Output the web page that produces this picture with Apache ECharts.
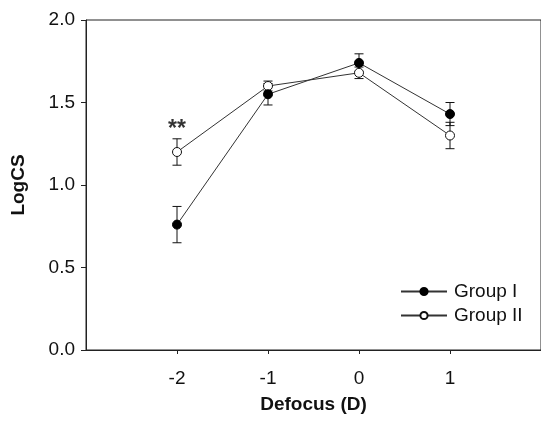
<!DOCTYPE html>
<html style="height: 100%">
    <head>
        <meta charset="utf-8">
    </head>
    <body style="height: 100%; margin: 0; background: #fff">
        <div id="container" style="width: 541px; height: 422px"></div>
        <script type="text/javascript" src="https://cdn.jsdelivr.net/npm/echarts@6/dist/echarts.min.js"></script>
        <script type="text/javascript">
// data
var defocus = [-2, -1, 0, 1];
var groupI = [0.76, 1.55, 1.74, 1.43];
var groupIErr = [0.11, 0.065, 0.055, 0.07];
var groupII = [1.20, 1.60, 1.68, 1.30];
var groupIIErr = [0.08, 0.03, 0.035, 0.08];
var yTicks = [0, 0.5, 1.0, 1.5, 2.0];

var font = 'Liberation Sans, Arial, sans-serif';
var ink = '#222';

var dom = document.getElementById('container');
var myChart = echarts.init(dom);

function pairs(ys) {
    return defocus.map(function (x, i) { return [x, ys[i]]; });
}
function errData(ys, es) {
    return defocus.map(function (x, i) { return [x, ys[i] - es[i], ys[i] + es[i]]; });
}

// whisker with caps, drawn through the axes
function renderErr(params, api) {
    var lo = api.coord([api.value(0), api.value(1)]);
    var hi = api.coord([api.value(0), api.value(2)]);
    var w = 4.5;
    var st = { stroke: '#111', lineWidth: 1 };
    return {
        type: 'group',
        children: [
            { type: 'line', shape: { x1: lo[0], y1: lo[1], x2: hi[0], y2: hi[1] }, style: st },
            { type: 'line', shape: { x1: lo[0] - w, y1: lo[1], x2: lo[0] + w, y2: lo[1] }, style: st },
            { type: 'line', shape: { x1: hi[0] - w, y1: hi[1], x2: hi[0] + w, y2: hi[1] }, style: st }
        ]
    };
}

var option = {
    animation: false,
    backgroundColor: '#fff',
    textStyle: { fontFamily: font },
    grid: {
        left: 86, top: 20, width: 458, height: 330,
        show: true, borderColor: ink, borderWidth: 1, backgroundColor: 'transparent'
    },
    legend: {
        data: ['Group I', 'Group II'],
        orient: 'vertical',
        left: 395, top: 277,
        itemWidth: 46, itemHeight: 9, itemGap: 5,
        textStyle: { fontSize: 19, color: '#111', fontFamily: font, padding: [0, 0, 0, 2] }
    },
    xAxis: {
        type: 'value', min: -3, max: 2, interval: 1,
        name: 'Defocus (D)', nameLocation: 'middle', nameGap: 45,
        nameTextStyle: { fontSize: 19, fontWeight: 'bold', color: '#111' },
        axisLine: { onZero: false, lineStyle: { color: ink } },
        axisTick: { show: true, length: 4, inside: false, customValues: defocus, lineStyle: { color: ink } },
        axisLabel: { fontSize: 19, color: '#111', margin: 19, customValues: defocus },
        splitLine: { show: false }
    },
    yAxis: {
        type: 'value', min: 0, max: 2, interval: 0.5,
        name: 'LogCS', nameLocation: 'middle', nameGap: 58, nameRotate: 90,
        nameTextStyle: { fontSize: 19, fontWeight: 'bold', color: '#111' },
        axisLine: { show: true, onZero: false, lineStyle: { color: ink } },
        axisTick: { show: true, length: 5, lineStyle: { color: ink } },
        axisLabel: {
            fontSize: 19, color: '#111', margin: 11,
            customValues: yTicks,
            formatter: function (v) { return v.toFixed(1); }
        },
        splitLine: { show: false }
    },
    series: [
        {
            name: 'Group II err', type: 'custom', renderItem: renderErr,
            data: errData(groupII, groupIIErr), z: 2, silent: true
        },
        {
            name: 'Group I err', type: 'custom', renderItem: renderErr,
            data: errData(groupI, groupIErr), z: 2, silent: true
        },
        {
            name: 'Group II', type: 'line', data: pairs(groupII),
            symbol: 'circle', symbolSize: 9, z: 3,
            lineStyle: { color: '#333', width: 1 },
            itemStyle: { color: '#fff', borderColor: '#111', borderWidth: 1 }
        },
        {
            name: 'Group I', type: 'line', data: pairs(groupI),
            symbol: 'circle', symbolSize: 9, z: 4,
            lineStyle: { color: '#333', width: 1 },
            itemStyle: { color: '#000', borderColor: '#000', borderWidth: 1 }
        },
        {
            // significance mark above the -2 D whisker of Group II
            name: 'sig', type: 'scatter', symbol: 'circle', symbolSize: 1, z: 5,
            itemStyle: { color: 'rgba(0,0,0,0)' },
            data: [[defocus[0], groupII[0] + groupIIErr[0]]],
            label: {
                show: true, position: 'top', distance: -3,
                formatter: '**', fontSize: 23, fontWeight: 'bold', color: '#000',
                textBorderWidth: 0
            }
        }
    ]
};

myChart.setOption(option);
        </script>
    </body>
</html>
